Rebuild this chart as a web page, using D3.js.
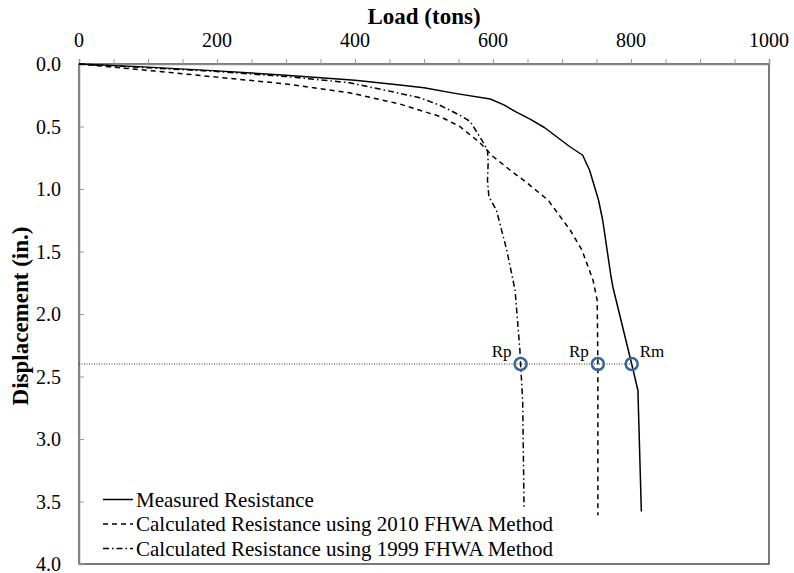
<!DOCTYPE html>
<html>
<head>
<meta charset="utf-8">
<script src="https://cdn.jsdelivr.net/npm/d3@7"></script>
<style>
  body { margin: 0; background: #fff; }
</style>
</head>
<body>
<div id="chart"></div>
<script>
// load (tons) vs displacement (in.)
const measuredLoad = [0, 100, 200, 300, 400, 465, 500, 545, 596, 615, 634, 655, 675, 711, 730, 740, 753, 759, 771, 774, 801, 810, 815];
const measuredDisp = [0, 0.025, 0.055, 0.09, 0.13, 0.168, 0.19, 0.235, 0.28, 0.325, 0.385, 0.445, 0.51, 0.66, 0.73, 0.85, 1.09, 1.25, 1.70, 1.79, 2.40, 2.61, 3.58];

const fhwa2010Load = [0, 59, 117, 200, 300, 392, 465, 494, 523, 552, 581, 600, 625, 649, 680, 712, 729, 745, 751, 752, 752];
const fhwa2010Disp = [0, 0.03, 0.06, 0.105, 0.16, 0.23, 0.32, 0.37, 0.42, 0.50, 0.63, 0.74, 0.85, 0.95, 1.09, 1.33, 1.49, 1.73, 1.89, 2.40, 3.61];

const fhwa1999Load = [0, 100, 200, 300, 392, 465, 494, 523, 552, 567, 576, 584, 592, 593, 592, 594, 605, 620, 632, 639, 640, 643, 645];
const fhwa1999Disp = [0, 0.03, 0.06, 0.10, 0.15, 0.235, 0.27, 0.33, 0.41, 0.46, 0.54, 0.61, 0.69, 0.79, 0.93, 1.06, 1.17, 1.49, 1.81, 2.29, 2.40, 2.69, 3.55];

const xTicks = [0, 200, 400, 600, 800, 1000];
const yTicks = [0, 0.5, 1.0, 1.5, 2.0, 2.5, 3.0, 3.5, 4.0];

const refDisp = 2.4;
const markers = [
  { label: "Rp", load: 640 },
  { label: "Rp", load: 752 },
  { label: "Rm", load: 801 }
];

const seriesNames = [
  "Measured Resistance",
  "Calculated Resistance using 2010 FHWA Method",
  "Calculated Resistance using 1999 FHWA Method"
];
const dashes = [null, "5,4", "6,3,1.5,3"];

const W = 794, H = 573;
const margin = { top: 64, right: 25, bottom: 9, left: 79 };
const width = W - margin.left - margin.right;
const height = H - margin.top - margin.bottom;

const svg = d3.select("#chart").append("svg")
  .attr("width", W).attr("height", H)
  .attr("font-family", "'Liberation Serif', 'DejaVu Serif', serif");
const g = svg.append("g")
  .attr("transform", `translate(${margin.left},${margin.top})`);

const x = d3.scaleLinear().domain([0, 1000]).range([0, width]);
const y = d3.scaleLinear().domain([0, 4]).range([0, height]);

// plot border (right / bottom)
g.append("rect")
  .attr("x", 0).attr("y", 0)
  .attr("width", width).attr("height", height)
  .attr("fill", "none")
  .attr("stroke", "#222")
  .attr("stroke-width", 1.2);

// top axis
const xAxis = g.append("g")
  .call(d3.axisTop(x).tickValues(d3.range(0, 1001, 50)).tickSize(5).tickFormat(""));
xAxis.select(".domain").attr("stroke", "#888").attr("stroke-width", 1.5);
xAxis.selectAll(".tick line").attr("stroke", "#999");

g.selectAll(".xlab")
  .data(xTicks)
  .enter().append("text")
  .attr("x", d => x(d))
  .attr("y", -17)
  .attr("text-anchor", "middle")
  .style("font-size", "20px")
  .text(d => d);

// left axis
const yAxis = g.append("g")
  .call(d3.axisRight(y).tickValues(yTicks).tickSize(5).tickFormat(""));
yAxis.select(".domain").attr("stroke", "#888").attr("stroke-width", 1.5);
yAxis.selectAll(".tick line").attr("stroke", "#999");

g.selectAll(".ylab")
  .data(yTicks)
  .enter().append("text")
  .attr("x", -18)
  .attr("y", d => y(d))
  .attr("dy", "0.35em")
  .attr("text-anchor", "end")
  .style("font-size", "20px")
  .text(d => d3.format(".1f")(d));

// titles
svg.append("text")
  .attr("x", margin.left + width / 2)
  .attr("y", 24)
  .attr("text-anchor", "middle")
  .style("font-size", "23px")
  .style("font-weight", "bold")
  .text("Load (tons)");

svg.append("text")
  .attr("transform", `translate(28,${margin.top + height / 2 + 2}) rotate(-90)`)
  .attr("text-anchor", "middle")
  .style("font-size", "23px")
  .style("font-weight", "bold")
  .text("Displacement (in.)");

// reference dotted line
g.append("line")
  .attr("x1", 0).attr("x2", x(markers[2].load))
  .attr("y1", y(refDisp)).attr("y2", y(refDisp))
  .attr("stroke", "#333")
  .attr("stroke-width", 1)
  .attr("stroke-dasharray", "1,1.5");

// curves
const line = d3.line().x(d => x(d[0])).y(d => y(d[1]));
const series = [
  d3.zip(measuredLoad, measuredDisp),
  d3.zip(fhwa2010Load, fhwa2010Disp),
  d3.zip(fhwa1999Load, fhwa1999Disp)
];
series.forEach((s, i) => {
  g.append("path")
    .datum(s)
    .attr("d", line)
    .attr("fill", "none")
    .attr("stroke", "#000")
    .attr("stroke-width", 1.5)
    .attr("stroke-linejoin", "round")
    .attr("stroke-dasharray", dashes[i]);
});

// circle markers
g.selectAll(".mk")
  .data(markers)
  .enter().append("circle")
  .attr("cx", d => x(d.load))
  .attr("cy", y(refDisp))
  .attr("r", 6)
  .attr("fill", "none")
  .attr("stroke", "#3b6597")
  .attr("stroke-width", 2.5);

g.selectAll(".mklab")
  .data(markers)
  .enter().append("text")
  .attr("x", d => d.label === "Rm" ? x(d.load) + 8 : x(d.load) - 9)
  .attr("y", y(refDisp) - 7)
  .attr("text-anchor", d => d.label === "Rm" ? "start" : "end")
  .style("font-size", "17px")
  .text(d => d.label);

// legend
const legend = g.append("g").attr("transform", "translate(24,0)");
seriesNames.forEach((name, i) => {
  const ly = y(3.5) - 2 + i * 24.5;
  legend.append("line")
    .attr("x1", 0).attr("x2", 30)
    .attr("y1", ly).attr("y2", ly)
    .attr("stroke", "#000")
    .attr("stroke-width", 1.5)
    .attr("stroke-dasharray", dashes[i]);
  legend.append("text")
    .attr("x", 33)
    .attr("y", ly)
    .attr("dy", "0.35em")
    .style("font-size", "21px")
    .text(name);
});
</script>
</body>
</html>
